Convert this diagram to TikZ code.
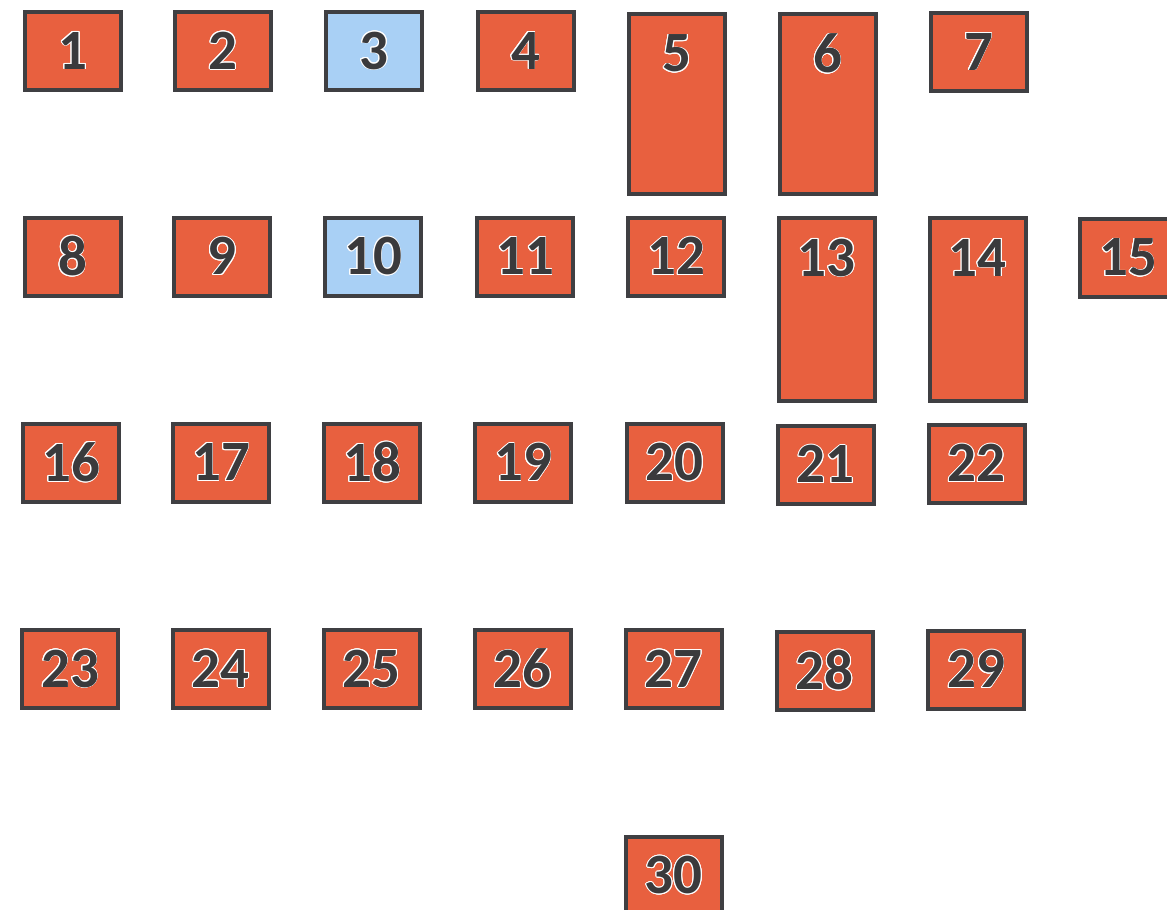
\documentclass[tikz,border=0pt]{standalone}
\usepackage{fontspec}
\setmainfont{Carlito}
\usepackage[copies]{contour}
\contourlength{0.8pt}
\definecolor{boxfill}{HTML}{E8603F}
\definecolor{bluefill}{HTML}{A9D0F5}
\definecolor{boxline}{HTML}{3F3F42}
\definecolor{txt}{HTML}{3A3A3C}
\newcommand{\lbltext}[1]{\contour{white}{\textcolor{txt}{#1}}}
\tikzset{
  box/.style={draw=boxline, line width=4pt, fill=boxfill, minimum width=96pt, minimum height=78pt, inner sep=0pt,
    font=\fontsize{57}{57}\selectfont\bfseries},
  bluebox/.style={box, fill=bluefill},
  tallbox/.style={box, minimum height=#1},
  toplbl/.style={anchor=center, yshift=-42pt, font=\fontsize{57}{57}\selectfont\bfseries, inner sep=0pt}
}
\begin{document}
\begin{tikzpicture}[x=1pt, y=-1pt]
\useasboundingbox (0,0) rectangle (1167,910);
\fill[white] (0,0) rectangle (1167,910);
\clip (0,0) rectangle (1167,910);
% row 1
\node[box] (n1) at (73,51) {\lbltext{1}};
\node[box] (n2) at (223,51) {\lbltext{2}};
\node[bluebox] (n3) at (374,51) {\lbltext{3}};
\node[box] (n4) at (525.5,51) {\lbltext{4}};
\node[tallbox=180pt, label={[toplbl]north:\lbltext{5}}] (n5) at (677,104) {};
\node[tallbox=180pt, label={[toplbl]north:\lbltext{6}}] (n6) at (827.5,104) {};
\node[box] (n7) at (978.5,52) {\lbltext{7}};
% row 2
\node[box] (n8) at (72.5,256.5) {\lbltext{8}};
\node[box] (n9) at (222,256.5) {\lbltext{9}};
\node[bluebox] (n10) at (373,256.5) {\lbltext{10}};
\node[box] (n11) at (525,256.5) {\lbltext{11}};
\node[box] (n12) at (676,256.5) {\lbltext{12}};
\node[tallbox=183pt, label={[toplbl]north:\lbltext{13}}] (n13) at (826.5,309.5) {};
\node[tallbox=183pt, label={[toplbl]north:\lbltext{14}}] (n14) at (977.5,309.5) {};
\node[box] (n15) at (1128,258) {\lbltext{15}};
% row 3
\node[box] (n16) at (71,462.5) {\lbltext{16}};
\node[box] (n17) at (221,462.5) {\lbltext{17}};
\node[box] (n18) at (372,462.5) {\lbltext{18}};
\node[box] (n19) at (523,462.5) {\lbltext{19}};
\node[box] (n20) at (674.5,462.5) {\lbltext{20}};
\node[box] (n21) at (825.5,464.5) {\lbltext{21}};
\node[box] (n22) at (976.5,463.5) {\lbltext{22}};
% row 4
\node[box] (n23) at (70,669) {\lbltext{23}};
\node[box] (n24) at (220.5,669) {\lbltext{24}};
\node[box] (n25) at (371.5,669) {\lbltext{25}};
\node[box] (n26) at (522.5,669) {\lbltext{26}};
\node[box] (n27) at (673.5,669) {\lbltext{27}};
\node[box] (n28) at (824.5,670.5) {\lbltext{28}};
\node[box] (n29) at (976,669.5) {\lbltext{29}};
% row 5
\node[box] (n30) at (673.5,875.5) {\lbltext{30}};
\end{tikzpicture}
\end{document}
